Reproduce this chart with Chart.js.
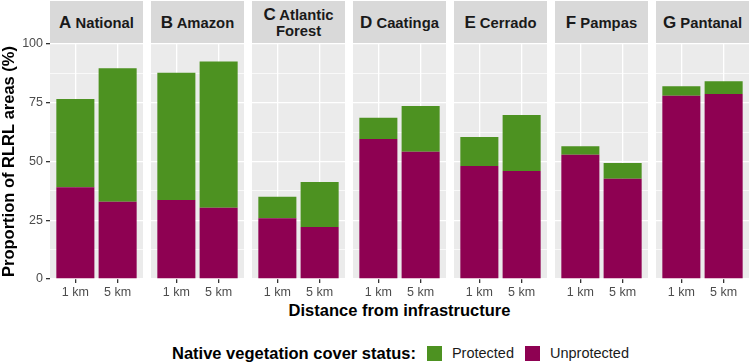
<!DOCTYPE html>
<html>
<head>
<meta charset="utf-8">
<script src="https://cdn.jsdelivr.net/npm/chart.js"></script>
<style>
  body { margin: 0; width: 750px; height: 362px; background: #fff; position: relative; overflow: hidden;
         font-family: "Liberation Sans", Arial, sans-serif; }
  canvas { position: absolute; }
  .strip { position: absolute; top: 1px; height: 43px; background: #D9D9D9; color: #1A1A1A;
           display: flex; align-items: center; justify-content: center; text-align: center;
           font-weight: bold; font-size: 14.8px; line-height: 16px; padding: 0 4px; box-sizing: border-box; }
  .strip .l { font-size: 17px; }
  .xtitle { position: absolute; left: 50px; width: 699px; top: 300px; text-align: center;
            font-weight: bold; font-size: 16.5px; line-height: 20px; color: #000; }
  .legend { position: absolute; left: 172px; top: 344px; height: 18px; display: flex; align-items: center;
            font-size: 14.5px; color: #1A1A1A; white-space: nowrap; }
  .legend .t { font-weight: bold; font-size: 16.5px; color: #000; margin-right: 11px; }
  .legend .k { width: 15px; height: 15px; margin-right: 10px; }
  .legend .n { margin-right: 11px; }
</style>
</head>
<body>
<div class="xtitle">Distance from infrastructure</div>
<div class="legend" id="legend"></div>
<script>
const letters = ['A', 'B', 'C', 'D', 'E', 'F', 'G'];
const regions = ['National', 'Amazon', 'Atlantic Forest', 'Caatinga', 'Cerrado', 'Pampas', 'Pantanal'];
const distances = ['1 km', '5 km'];
// share of RLRL area, % (stacked: unprotected at the bottom, protected on top)
const unprotected = [[39.0, 32.9], [33.6, 30.3], [25.8, 22.1], [59.6, 54.2], [48.1, 46.0], [52.9, 42.7], [78.0, 78.7]];
const protectedPart = [[37.6, 56.8], [54.2, 62.3], [9.2, 19.2], [9.0, 19.4], [12.3, 23.8], [3.6, 6.7], [4.0, 5.4]];
const yTicks = [0, 25, 50, 75, 100];
const legendNames = ['Protected', 'Unprotected'];
const legendColors = ['#4D9221', '#8E0152'];

const PLOT_LEFT = 50, PANEL_W = 93, PANEL_STEP = 100.95;
const TOP = 30, PLOT_TOP = 44, PLOT_BOTTOM = 279, XAXIS_H = 26;

Chart.defaults.font.family = '"Liberation Sans", Arial, sans-serif';

const panelBg = {
  id: 'panelBg',
  beforeDraw(chart) {
    const { ctx, chartArea: a } = chart;
    ctx.save();
    ctx.fillStyle = '#EBEBEB';
    ctx.fillRect(a.left, a.top, a.right - a.left, a.bottom - a.top);
    ctx.restore();
  }
};

const isMajor = v => yTicks.includes(v);

regions.forEach((name, i) => {
  const first = i === 0;
  const panelLeft = Math.round(PLOT_LEFT + i * PANEL_STEP);

  const strip = document.createElement('div');
  strip.className = 'strip';
  strip.style.left = panelLeft + 'px';
  strip.style.width = PANEL_W + 'px';
  strip.innerHTML = '<span><span class="l">' + letters[i] + '</span> ' + name + '</span>';
  document.body.appendChild(strip);

  const canvas = document.createElement('canvas');
  const left = first ? 0 : panelLeft;
  const width = first ? panelLeft + PANEL_W : PANEL_W;
  canvas.width = width;
  canvas.height = PLOT_BOTTOM - TOP + XAXIS_H;
  canvas.style.left = left + 'px';
  canvas.style.top = TOP + 'px';
  document.body.appendChild(canvas);

  new Chart(canvas, {
    type: 'bar',
    data: {
      datasets: [
        { label: legendNames[1], data: unprotected[i].map((v, j) => ({ x: j + 1, y: v })), backgroundColor: legendColors[1] },
        { label: legendNames[0], data: protectedPart[i].map((v, j) => ({ x: j + 1, y: v })), backgroundColor: legendColors[0] }
      ]
    },
    options: {
      responsive: false,
      animation: false,
      layout: { padding: { top: PLOT_TOP - TOP, left: 0, right: 0, bottom: 0 } },
      datasets: { bar: { categoryPercentage: 1, barPercentage: 0.9 } },
      plugins: { legend: { display: false }, tooltip: { enabled: false } },
      scales: {
        x: {
          type: 'linear', stacked: true, min: 0.4, max: 2.6, offset: false,
          afterBuildTicks: s => { s.ticks = distances.map((d, j) => ({ value: j + 1 })); },
          afterFit: s => { s.height = XAXIS_H; },
          ticks: { callback: v => distances[v - 1] || '', color: '#4D4D4D', font: { size: 12.5 },
                   padding: 2, maxRotation: 0, autoSkip: false },
          grid: { offset: false, color: '#FFFFFF', lineWidth: 1.3, tickLength: 4, tickColor: '#333333' },
          border: { display: false }
        },
        y: {
          stacked: true, min: 0, max: 100,
          afterFit: s => { s.width = first ? PLOT_LEFT : 0; },
          ticks: { display: first, stepSize: 12.5, autoSkip: false, padding: 3,
                   callback: v => isMajor(v) ? v : '', color: '#4D4D4D', font: { size: 12.5 } },
          grid: {
            color: '#FFFFFF',
            lineWidth: c => (c.tick && isMajor(c.tick.value)) ? 1.3 : 0.7,
            drawTicks: first, tickLength: 4,
            tickColor: c => (c.tick && isMajor(c.tick.value)) ? '#333333' : 'rgba(0,0,0,0)'
          },
          border: { display: false },
          title: { display: first, text: 'Proportion of RLRL areas (%)', color: '#000',
                   font: { size: 16.5, weight: 'bold' }, padding: { top: 0, bottom: 0 } }
        }
      }
    },
    plugins: [panelBg]
  });
});

const legend = document.getElementById('legend');
legend.innerHTML = '<span class="t">Native vegetation cover status:</span>' +
  legendNames.map((n, k) => '<span class="k" style="background:' + legendColors[k] + '"></span><span class="n">' + n + '</span>').join('');
</script>
</body>
</html>
